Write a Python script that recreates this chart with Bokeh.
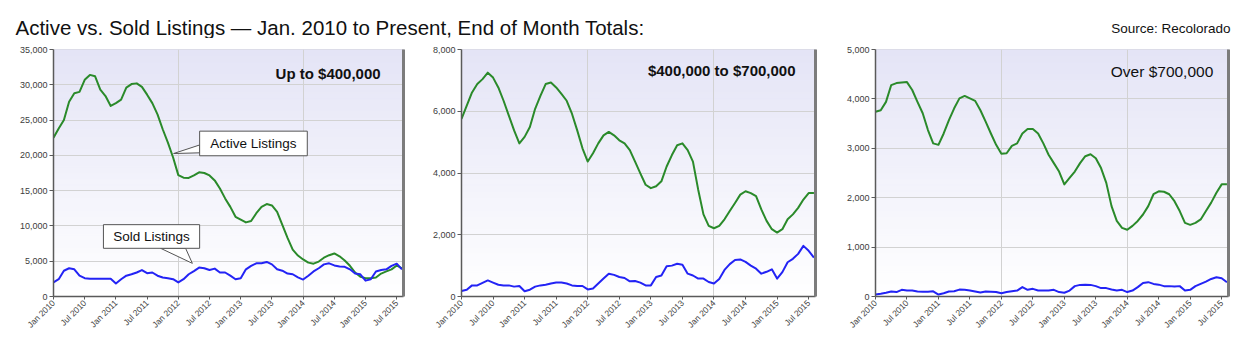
import numpy as np
from bokeh.plotting import figure
from bokeh.layouts import column, row
from bokeh.models import Range1d, FixedTicker, NumeralTickFormatter, LinearAxis
from bokeh.core.properties import value
from bokeh.embed import file_html
from bokeh.resources import INLINE

# ---------------- data ----------------
months = list(range(68))  # Jan 2010 .. Aug 2015
tick_months = [0, 6, 12, 18, 24, 30, 36, 42, 48, 54, 60, 66]
tick_labels = ["Jan 2010", "Jul 2010", "Jan 2011", "Jul 2011", "Jan 2012", "Jul 2012",
               "Jan 2013", "Jul 2013", "Jan 2014", "Jul 2014", "Jan 2015", "Jul 2015"]

active_1 = [22500, 23800, 25000, 27600, 28800, 29000, 30700, 31400, 31200, 29300,
            28400, 27000, 27400, 27900, 29600, 30100, 30200, 29700, 28600, 27400,
            25800, 23700, 21800, 19700, 17200, 16830, 16800, 17150, 17600, 17500,
            17150, 16450, 15300, 13900, 12700, 11300, 10900, 10500, 10700, 11800,
            12700, 13100, 12900, 12000, 10150, 8300, 6650, 5800, 5250, 4800,
            4650, 4950, 5500, 5850, 6100, 5700, 5100, 4350, 3400, 2800,
            2600, 2600, 2700, 3250, 3550, 3850, 4400, 4000]
sold_1 = [2000, 2450, 3650, 4000, 3850, 2950, 2600, 2500, 2500, 2500,
          2500, 2500, 1850, 2450, 2950, 3150, 3400, 3750, 3300, 3400,
          2950, 2700, 2600, 2450, 2000, 2450, 3150, 3600, 4100, 4000,
          3750, 3950, 3400, 3400, 2950, 2450, 2600, 3850, 4350, 4700,
          4700, 4900, 4550, 3850, 3650, 3250, 3150, 2700, 2400, 2950,
          3550, 4000, 4550, 4700, 4400, 4250, 4200, 3850, 3250, 3150,
          2250, 2450, 3550, 3750, 3850, 4350, 4650, 3850]

active_2 = [5750, 6180, 6610, 6880, 7040, 7250, 7090, 6770, 6340, 5860,
            5380, 4960, 5170, 5490, 6080, 6500, 6880, 6930, 6770, 6560,
            6340, 5920, 5380, 4800, 4370, 4640, 4960, 5220, 5330, 5220,
            5060, 4960, 4740, 4370, 3990, 3620, 3510, 3570, 3730, 4210,
            4580, 4900, 4960, 4740, 4370, 3460, 2660, 2290, 2210, 2290,
            2500, 2770, 3030, 3300, 3410, 3350, 3250, 2820, 2450, 2180,
            2070, 2180, 2500, 2660, 2870, 3140, 3350, 3350]
sold_2 = [180, 220, 360, 360, 440, 520, 450, 380, 360, 360,
          320, 340, 170, 220, 320, 360, 380, 420, 450, 450,
          420, 360, 340, 340, 230, 260, 420, 580, 740, 700,
          630, 600, 490, 500, 450, 360, 360, 630, 680, 980,
          1000, 1060, 1030, 740, 680, 580, 580, 470, 420, 570,
          860, 1050, 1180, 1200, 1120, 1000, 900, 740, 800, 880,
          580, 790, 1110, 1220, 1380, 1640, 1480, 1260]

active_3 = [3740, 3770, 3940, 4280, 4320, 4330, 4340, 4180, 3940, 3710,
            3370, 3100, 3070, 3300, 3570, 3810, 4010, 4060, 4010, 3960,
            3770, 3540, 3300, 3070, 2890, 2900, 3050, 3100, 3300, 3390,
            3390, 3300, 3100, 2870, 2700, 2530, 2270, 2400, 2530, 2700,
            2840, 2880, 2800, 2600, 2300, 1830, 1530, 1390, 1350, 1430,
            1530, 1660, 1830, 2070, 2130, 2120, 2070, 1930, 1730, 1490,
            1450, 1490, 1560, 1730, 1900, 2100, 2270, 2270]
sold_3 = [40, 55, 75, 100, 90, 135, 120, 120, 100, 95,
          95, 105, 40, 65, 100, 105, 140, 135, 120, 100,
          80, 100, 95, 90, 65, 90, 105, 120, 190, 135,
          155, 120, 120, 120, 135, 90, 75, 120, 210, 235,
          240, 235, 210, 170, 170, 140, 120, 135, 90, 120,
          190, 275, 290, 255, 240, 210, 210, 200, 210, 120,
          135, 210, 255, 300, 355, 390, 370, 290]

title_text = "Active vs. Sold Listings \u2014 Jan. 2010 to Present, End of Month Totals:"
source_text = "Source: Recolorado"
panel_titles = ["Up to $400,000", "$400,000 to $700,000", "Over $700,000"]

FONT = "Liberation Sans"
GREEN = "#2a8a2a"
BLUE = "#2323f5"


def make_panel(active, sold, ymax, ystep, label, bold, label_x, label_y,
               width, left, right, top, bottom):
    p = figure(width=width, height=299, x_range=Range1d(0, 67.3), y_range=Range1d(0, ymax),
               output_backend="svg", toolbar_location=None,
               min_border_left=left, min_border_right=right,
               min_border_top=top, min_border_bottom=bottom,
               background_fill_color="white", border_fill_color="white",
               outline_line_color="#d0d0d0")
    # vertical lavender-to-white background gradient
    n = 40
    edges = np.linspace(0, ymax, n + 1)
    top_c = np.array([228, 228, 246])
    bot_c = np.array([255, 255, 255])
    cols = []
    for i in range(n):
        t = (i + 0.5) / n
        c = bot_c + (top_c - bot_c) * t
        cols.append("#%02x%02x%02x" % tuple(int(round(v)) for v in c))
    p.quad(left=-5, right=80, bottom=edges[:-1], top=edges[1:],
           fill_color=cols, line_color=cols, line_width=1, level="image")

    p.line(months, active, line_color=GREEN, line_width=2, line_join="round")
    p.line(months, sold, line_color=BLUE, line_width=2, line_join="round")

    p.xaxis.ticker = FixedTicker(ticks=tick_months)
    p.xaxis.major_label_overrides = {m: lab for m, lab in zip(tick_months, tick_labels)}
    p.xaxis.major_label_orientation = np.pi / 4
    p.xgrid.ticker = FixedTicker(ticks=[24, 48])
    p.yaxis.ticker = FixedTicker(ticks=list(range(0, ymax + 1, ystep)))
    p.yaxis.formatter = NumeralTickFormatter(format="0,0")
    for ax in (p.xaxis, p.yaxis):
        ax.axis_line_color = "#5a5a5a"
        ax.axis_line_width = 1.5
        ax.major_tick_line_color = "#5a5a5a"
        ax.major_tick_out = 4
        ax.major_tick_in = 0
        ax.minor_tick_line_color = None
        ax.major_label_text_font = FONT
        ax.major_label_text_color = "#3c3c3c"
        ax.major_label_standoff = 2
    p.xaxis.major_label_text_font_size = "8.5px"
    p.yaxis.major_label_text_font_size = "9px"
    p.xaxis.major_tick_out = 3
    p.grid.grid_line_color = "#d2d2d2"
    p.grid.grid_line_width = 1

    shadow = LinearAxis(major_tick_line_color=None, minor_tick_line_color=None,
                        major_label_text_color=None, major_label_text_font_size="1px",
                        axis_line_color="#7c7c7c", axis_line_width=3)
    p.add_layout(shadow, "right")

    p.text(x=[label_x], y=[label_y], text=[label], text_align="right", text_baseline="middle",
           text_font=value(FONT), text_font_size="15.5px" if not bold else "15px",
           text_font_style="bold" if bold else "normal", text_color="#111111")
    return p


p1 = make_panel(active_1, sold_1, 35000, 5000, panel_titles[0], True, 62.9, 31650,
                415, 53, 12, 7, 41)
p2 = make_panel(active_2, sold_2, 8000, 2000, panel_titles[1], True, 63.5, 7320,
                410, 46, 10, 10, 39)
p3 = make_panel(active_3, sold_3, 5000, 1000, panel_titles[2], False, 64.4, 4545,
                416, 50, 13, 11, 39)

# callouts on the first panel
p1.patch(x=[28.1, 23.1, 28.1], y=[21470, 20260, 20360], fill_color="white",
         line_color="#555555", line_width=1)
p1.quad(left=[28.1], right=[48.8], bottom=[19940], top=[23430], fill_color="white",
        line_color="#555555", line_width=1)
p1.text(x=[38.45], y=[21685], text=["Active Listings"], text_align="center",
        text_baseline="middle", text_font=value(FONT), text_font_size="13.5px",
        text_color="#111111")

p1.patch(x=[20.6, 26.7, 25.4], y=[6830, 4700, 6830], fill_color="white",
         line_color="#555555", line_width=1)
p1.quad(left=[9.6], right=[28.1], bottom=[6830], top=[10180], fill_color="white",
        line_color="#555555", line_width=1)
p1.text(x=[18.85], y=[8505], text=["Sold Listings"], text_align="center",
        text_baseline="middle", text_font=value(FONT), text_font_size="13.5px",
        text_color="#111111")

# header
h = figure(width=1241, height=38, x_range=Range1d(0, 1241), y_range=Range1d(38, 0),
           x_axis_location=None, y_axis_location=None, min_border=0,
           output_backend="svg", toolbar_location=None, outline_line_color=None,
           background_fill_color="white", border_fill_color="white")
h.grid.visible = False
h.text(x=[15], y=[27], text=[title_text], text_align="left", text_baseline="alphabetic",
       text_font=value(FONT), text_font_size="20.5px", text_color="#111111")
h.text(x=[1230], y=[28], text=[source_text], text_align="right", text_baseline="alphabetic",
       text_font=value(FONT), text_font_size="13.5px", text_color="#111111")

layout = column(h, row(p1, p2, p3))
open("out.html", "w").write(file_html(layout, INLINE))
